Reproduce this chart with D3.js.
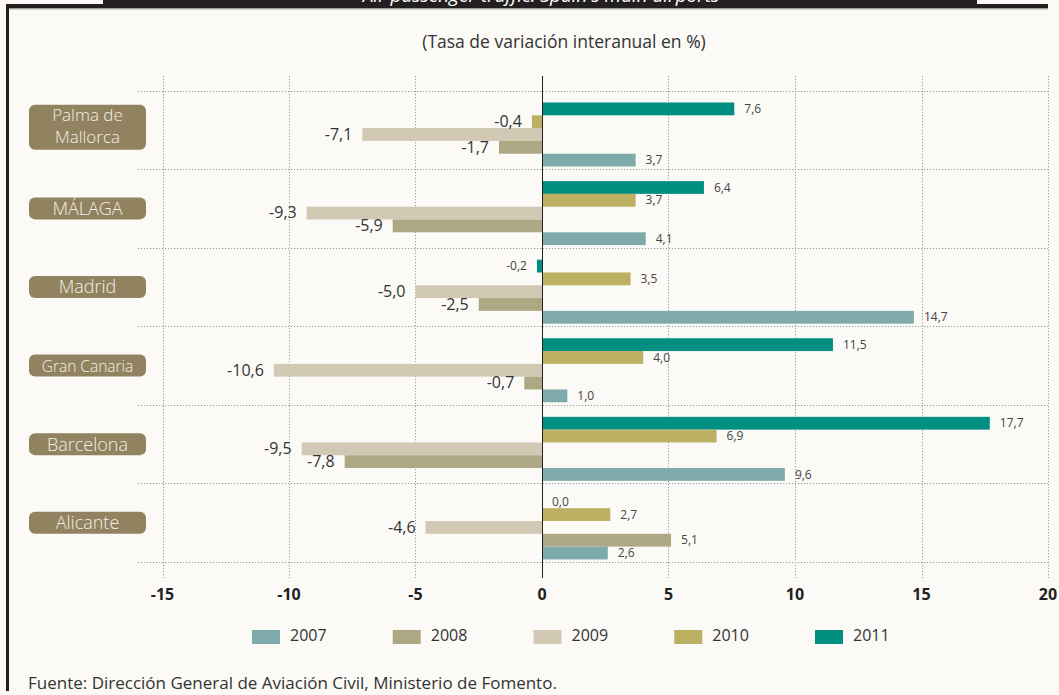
<!DOCTYPE html>
<html>
<head>
<meta charset="utf-8">
<script src="https://cdn.jsdelivr.net/npm/d3@7"></script>
<style>
  html, body { margin: 0; padding: 0; background: #fbfaf6; }
  svg { display: block; font-family: "Open Sans", Lato, sans-serif; }
</style>
</head>
<body>
<div id="chart"></div>
<script>
const airports = ["Palma de Mallorca", "MÁLAGA", "Madrid", "Gran Canaria", "Barcelona", "Alicante"];
const years = ["2011", "2010", "2009", "2008", "2007"];
const legendYears = ["2007", "2008", "2009", "2010", "2011"];
const v2007 = [3.7, 4.1, 14.7, 1.0, 9.6, 2.6];
const v2008 = [-1.7, -5.9, -2.5, -0.7, -7.8, 5.1];
const v2009 = [-7.1, -9.3, -5.0, -10.6, -9.5, -4.6];
const v2010 = [-0.4, 3.7, 3.5, 4.0, 6.9, 2.7];
const v2011 = [7.6, 6.4, -0.2, 11.5, 17.7, 0.0];
const ticks = [-15, -10, -5, 0, 5, 10, 15, 20];

const title = "Air passenger traffic: Spain's main airports";
const subtitle = "(Tasa de variación interanual en %)";
const source = "Fuente: Dirección General de Aviación Civil, Ministerio de Fomento.";

const colors = {
  "2007": "#7faaab",
  "2008": "#aea783",
  "2009": "#d2c9b5",
  "2010": "#bcb063",
  "2011": "#008f80"
};

const seriesByYear = { "2007": v2007, "2008": v2008, "2009": v2009, "2010": v2010, "2011": v2011 };

const rows = [];
airports.forEach((a, i) => {
  years.forEach(yr => rows.push({ airport: a, year: yr, value: seriesByYear[yr][i] }));
});

const width = 1059, height = 695;
const loc = d3.formatLocale({ decimal: ",", thousands: ".", grouping: [3], currency: ["", "€"], minus: "-" });
const fmt = loc.format(".1f");
const fmtTick = loc.format("d");

const svg = d3.select("#chart").append("svg")
  .attr("width", width)
  .attr("height", height);

svg.append("rect").attr("width", width).attr("height", height).attr("fill", "#fbfaf6");

// frame and the title band, cut at the top edge like the original page
svg.append("rect").attr("x", 103).attr("y", 0).attr("width", 874).attr("height", 8).attr("fill", "#231f20");
svg.append("rect").attr("x", 6).attr("y", 4).attr("width", 1042).attr("height", 4.5).attr("fill", "#231f20");
svg.append("rect").attr("x", 9).attr("y", 8.5).attr("width", 1039).attr("height", 1).attr("fill", "#b5b1ab");
svg.append("rect").attr("x", 6).attr("y", 4).attr("width", 3).attr("height", 687).attr("fill", "#231f20");
svg.append("text")
  .attr("x", 541).attr("y", 2)
  .attr("text-anchor", "middle")
  .attr("font-size", 19)
  .attr("font-style", "italic")
  .attr("fill", "#fff")
  .text(title);

svg.append("text")
  .attr("x", 564).attr("y", 48)
  .attr("text-anchor", "middle")
  .attr("font-size", 17.5)
  .attr("fill", "#333")
  .text(subtitle);

const x = d3.scaleLinear().domain([-15, 20]).range([162.5, 1048]);
const y = d3.scaleBand().domain(airports).range([90.5, 562]);
const yInner = d3.scaleBand().domain(years).range([12, 76]);

const grid = svg.append("g").attr("stroke", "#9a9a9a").attr("stroke-dasharray", "1.2,1.8").attr("stroke-width", 1);

// vertical grid
grid.selectAll("line.v")
  .data(ticks.filter(t => t !== 0))
  .enter().append("line")
    .attr("x1", d => Math.round(x(d)) + 0.5)
    .attr("x2", d => Math.round(x(d)) + 0.5)
    .attr("y1", 76)
    .attr("y2", 578);

// horizontal grid
const bounds = airports.map(a => y(a)).concat([y.range()[1]]);
grid.selectAll("line.h")
  .data(bounds)
  .enter().append("line")
    .attr("x1", 138)
    .attr("x2", 1048)
    .attr("y1", d => Math.round(d) + 0.5)
    .attr("y2", d => Math.round(d) + 0.5);

// bars
svg.append("g")
  .selectAll("rect")
  .data(rows)
  .enter().append("rect")
    .attr("x", d => x(Math.min(0, d.value)))
    .attr("y", d => y(d.airport) + yInner(d.year))
    .attr("width", d => Math.abs(x(d.value) - x(0)))
    .attr("height", yInner.bandwidth())
    .attr("fill", d => colors[d.year]);

// zero line
svg.append("line")
  .attr("x1", Math.round(x(0)) + 0.5)
  .attr("x2", Math.round(x(0)) + 0.5)
  .attr("y1", 76)
  .attr("y2", 578)
  .attr("stroke", "#222")
  .attr("stroke-width", 1);

// value labels
const isSmall = d => d.value >= 0 || d.year === "2011";
svg.append("g")
  .selectAll("text")
  .data(rows)
  .enter().append("text")
    .attr("x", d => d.value >= 0 ? x(d.value) + 10 : x(d.value) - 10)
    .attr("y", d => y(d.airport) + yInner(d.year) + yInner.bandwidth() / 2 + 1)
    .attr("dominant-baseline", "middle")
    .attr("text-anchor", d => d.value >= 0 ? "start" : "end")
    .attr("font-size", d => isSmall(d) ? 12 : 16)
    .attr("fill", d => isSmall(d) ? "#444" : "#333")
    .text(d => fmt(d.value));

// category labels
const cat = svg.append("g").selectAll("g")
  .data(airports)
  .enter().append("g")
    .attr("transform", d => "translate(0," + (y(d) + y.bandwidth() / 2) + ")");

cat.append("rect")
  .attr("x", 29)
  .attr("y", d => d === "Palma de Mallorca" ? -25 : -11)
  .attr("width", 117)
  .attr("height", d => d === "Palma de Mallorca" ? 45 : 22)
  .attr("rx", 6)
  .attr("fill", "#918360");

cat.each(function (d) {
  const g = d3.select(this);
  const lines = d === "Palma de Mallorca" ? ["Palma de", "Mallorca"] : [d];
  g.selectAll("text")
    .data(lines)
    .enter().append("text")
      .attr("x", 87.5)
      .attr("y", (l, i) => lines.length === 1 ? 6.5 : -9 + i * 22)
      .attr("text-anchor", "middle")
      .attr("font-size", d === "Gran Canaria" ? 15.5 : (lines.length > 1 ? 17 : 18))
      .attr("font-weight", 300)
      .attr("fill", "#f4f0e6")
      .text(l => l);
});

// x axis tick labels
svg.append("g")
  .selectAll("text")
  .data(ticks)
  .enter().append("text")
    .attr("x", d => x(d))
    .attr("y", 600)
    .attr("text-anchor", "middle")
    .attr("font-size", 16)
    .attr("font-weight", "bold")
    .attr("fill", "#222")
    .text(d => fmtTick(d));

// legend
const legendX = d3.scalePoint().domain(legendYears).range([252, 815]);
const leg = svg.append("g")
  .selectAll("g")
  .data(legendYears)
  .enter().append("g")
    .attr("transform", d => "translate(" + legendX(d) + ",630)");
leg.append("rect").attr("width", 28).attr("height", 14).attr("fill", d => colors[d]);
leg.append("text")
  .attr("x", 38).attr("y", 7)
  .attr("dominant-baseline", "middle")
  .attr("font-size", 16)
  .attr("fill", "#333")
  .text(d => d);

svg.append("text")
  .attr("x", 28).attr("y", 689)
  .attr("font-size", 17)
  .attr("fill", "#333")
  .text(source);
</script>
</body>
</html>
